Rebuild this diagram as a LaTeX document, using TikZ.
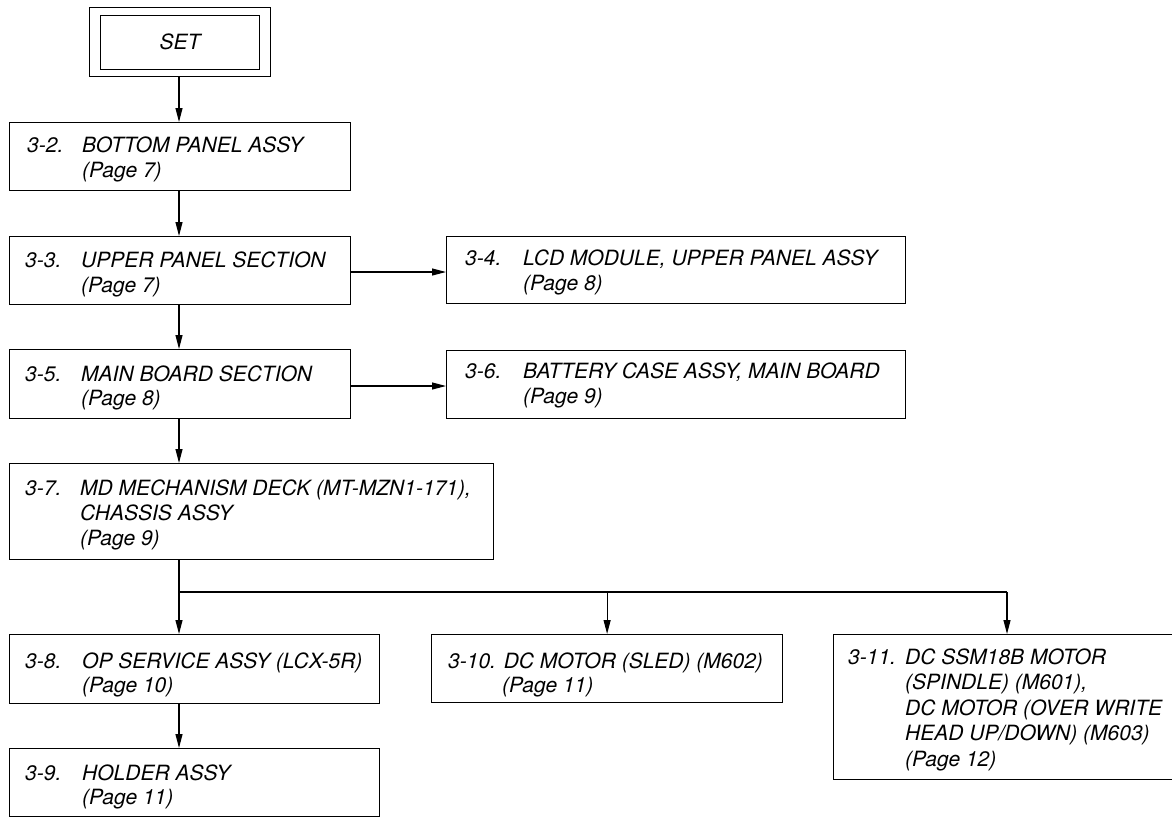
\documentclass[tikz,border=0pt]{standalone}
\usepackage{fontspec}
\setmainfont{TeX Gyre Heros}
\usetikzlibrary{arrows.meta}
\begin{document}
\begin{tikzpicture}[x=1pt,y=-1pt,
  boxst/.style={draw=black, line width=1.2pt, inner sep=0pt, anchor=north west},
  txt/.style={anchor=base west, inner sep=0pt, font=\fontsize{21}{25}\selectfont\itshape},
  line/.style={draw=black, line width=1.1pt},
  arr/.style={line, -{Triangle[length=14pt, width=7pt]}}]
\useasboundingbox (0,0) rectangle (1172,817);
\coordinate (sp) at (179,0);
\coordinate (t311) at (1007,0);
% SET
\node[boxst, minimum width=181pt, minimum height=69pt] (setout) at (89,7) {};
\node[boxst, minimum width=159pt, minimum height=54pt] (set) at (100,15) {};
\node[font=\fontsize{21}{25}\selectfont\itshape, inner sep=0pt] (settxt) at (180,42) {SET};
% 3-2
\node[boxst, minimum width=341pt, minimum height=68pt] (b32) at (9,122) {};
\node[txt] (l32) at (27,152) {3-2.};
\node[txt] (m32a) at (82,152) {BOTTOM PANEL ASSY};
\node[txt] (m32b) at (82,177) {(Page 7)};
% 3-3
\node[boxst, minimum width=341pt, minimum height=68pt] (b33) at (9,236) {};
\node[txt] (l33) at (25,267) {3-3.};
\node[txt] (m33a) at (81,267) {UPPER PANEL SECTION};
\node[txt] (m33b) at (81,292) {(Page 7)};
% 3-4
\node[boxst, minimum width=459pt, minimum height=67pt] (b34) at (446,236) {};
\node[txt] (l34) at (465,265) {3-4.};
\node[txt] (m34a) at (523,265) {LCD MODULE, UPPER PANEL ASSY};
\node[txt] (m34b) at (523,290) {(Page 8)};
% 3-5
\node[boxst, minimum width=341pt, minimum height=69pt] (b35) at (9,349) {};
\node[txt] (l35) at (25,381) {3-5.};
\node[txt] (m35a) at (81,381) {MAIN BOARD SECTION};
\node[txt] (m35b) at (81,405) {(Page 8)};
% 3-6
\node[boxst, minimum width=459pt, minimum height=68pt] (b36) at (446,350) {};
\node[txt] (l36) at (465,378) {3-6.};
\node[txt] (m36a) at (523,378) {BATTERY CASE ASSY, MAIN BOARD};
\node[txt] (m36b) at (523,403) {(Page 9)};
% 3-7
\node[boxst, minimum width=484pt, minimum height=96pt] (b37) at (9,463) {};
\node[txt] (l37) at (25,495) {3-7.};
\node[txt] (m37a) at (80,495) {MD MECHANISM DECK (MT-MZN1-171),};
\node[txt] (m37b) at (80,520) {CHASSIS ASSY};
\node[txt] (m37c) at (80,545) {(Page 9)};
% 3-8
\node[boxst, minimum width=370pt, minimum height=69pt] (b38) at (9,634) {};
\node[txt] (l38) at (25,668) {3-8.};
\node[txt] (m38a) at (82,668) {OP SERVICE ASSY (LCX-5R)};
\node[txt] (m38b) at (82,692) {(Page 10)};
% 3-9
\node[boxst, minimum width=370pt, minimum height=68pt] (b39) at (9,748) {};
\node[txt] (l39) at (25,780) {3-9.};
\node[txt] (m39a) at (82,780) {HOLDER ASSY};
\node[txt] (m39b) at (82,804) {(Page 11)};
% 3-10
\node[boxst, minimum width=351pt, minimum height=68pt] (b310) at (431,634) {};
\node[txt] (l310) at (448,668) {3-10. DC MOTOR (SLED) (M602)};
\node[txt] (m310b) at (502,692) {(Page 11)};
% 3-11
\node[boxst, minimum width=340pt, minimum height=145pt] (b311) at (833,634) {};
\node[txt] (l311) at (848,664) {3-11.};
\node[txt] (m311a) at (905,664) {DC SSM18B MOTOR};
\node[txt] (m311b) at (905,689.5) {(SPINDLE) (M601),};
\node[txt] (m311c) at (905,715) {DC MOTOR (OVER WRITE};
\node[txt] (m311d) at (905,740.5) {HEAD UP/DOWN) (M603)};
\node[txt] (m311e) at (905,766) {(Page 12)};
% connectors
\coordinate (j) at (179,592);
\coordinate (h34) at (0,272);
\coordinate (h36) at (0,386);
\draw[arr] (setout.south -| sp) -- (b32.north -| sp);
\draw[arr] (b32.south -| sp) -- (b33.north -| sp);
\draw[arr] (b33.south -| sp) -- (b35.north -| sp);
\draw[arr] (b35.south -| sp) -- (b37.north -| sp);
\draw[arr] (b33.east |- h34) -- (b34.west |- h34);
\draw[arr] (b35.east |- h36) -- (b36.west |- h36);
\draw[arr] (b37.south -| sp) -- (b38.north -| sp);
\draw[arr] (b38.south -| sp) -- (b39.north -| sp);
\draw[line] (j) -- (j -| t311);
\draw[arr] (j -| b310.north) -- (b310.north);
\draw[arr] (j -| t311) -- (b311.north -| t311);
\end{tikzpicture}
\end{document}
